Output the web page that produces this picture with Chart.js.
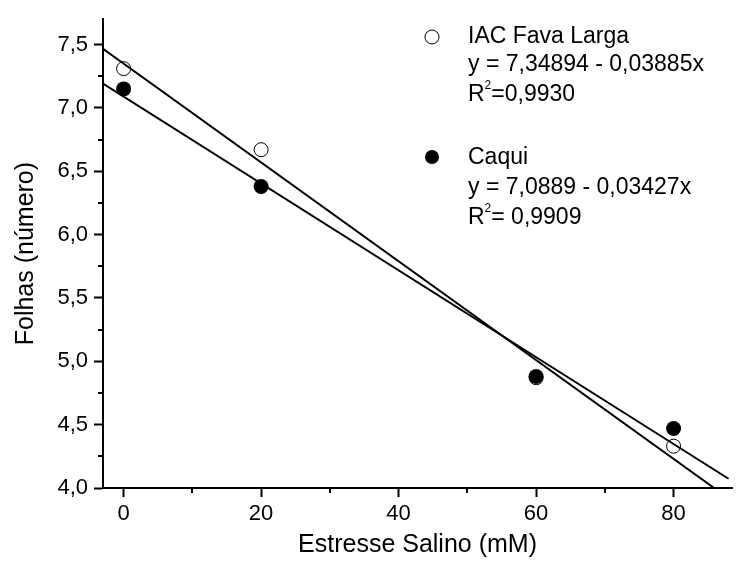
<!DOCTYPE html>
<html>
<head>
<meta charset="utf-8">
<script src="https://cdn.jsdelivr.net/npm/chart.js@4.4.1/dist/chart.umd.min.js"></script>
<style>
  html, body { margin: 0; padding: 0; background: #fff; }
  canvas { display: block; }
</style>
</head>
<body>
<canvas id="grafico" width="740" height="565"></canvas>
<script>
// Dados
const estresse = [0, 20, 60, 80];
const folhasIAC = [7.31, 6.67, 4.87, 4.33];
const folhasCaqui = [7.15, 6.38, 4.88, 4.47];

// Retas de regressao (extremos)
const retaIACx = [-3, 85.9];
const retaIACy = [7.466, 4.0];
const retaCaquix = [-3, 88];
const retaCaquiy = [7.192, 4.073];

const ticksX = [0, 20, 40, 60, 80];
const ticksXmenor = [10, 30, 50, 70];
const ticksY = [4.0, 4.5, 5.0, 5.5, 6.0, 6.5, 7.0, 7.5];
const ticksYmenor = [4.25, 4.75, 5.25, 5.75, 6.25, 6.75, 7.25];

const nomes = ['IAC Fava Larga', 'Caqui'];
const equacoes = ['y = 7,34894 - 0,03885x', 'y = 7,0889 - 0,03427x'];
const r2 = ['=0,9930', '= 0,9909'];

const fonte = '"Liberation Sans", Arial, sans-serif';

function pares(xs, ys) {
  return xs.map((x, i) => ({ x: x, y: ys[i] }));
}

// Ticks menores
const ticksMenores = {
  id: 'ticksMenores',
  afterDraw(chart) {
    const ctx = chart.ctx;
    const area = chart.chartArea;
    const sx = chart.scales.x, sy = chart.scales.y;
    ctx.save();
    ctx.strokeStyle = '#000';
    ctx.lineWidth = 2;
    ctx.beginPath();
    ticksXmenor.forEach(v => {
      const px = Math.round(sx.getPixelForValue(v));
      ctx.moveTo(px, area.bottom);
      ctx.lineTo(px, area.bottom + 5);
    });
    ticksYmenor.forEach(v => {
      const py = Math.round(sy.getPixelForValue(v));
      ctx.moveTo(area.left, py);
      ctx.lineTo(area.left - 5, py);
    });
    ctx.stroke();
    ctx.restore();
  }
};

// Legenda com equacoes
const legenda = {
  id: 'legenda',
  afterDraw(chart) {
    const ctx = chart.ctx;
    ctx.save();
    ctx.fillStyle = '#000';
    ctx.strokeStyle = '#000';
    ctx.textBaseline = 'middle';
    const xt = 468;
    const ys = [[37, 65, 95], [158, 188, 218]];
    const ym = [37, 157];
    for (let i = 0; i < 2; i++) {
      ctx.beginPath();
      ctx.arc(432, ym[i], 7, 0, Math.PI * 2);
      if (i === 0) { ctx.lineWidth = 1; ctx.stroke(); } else { ctx.fill(); }
      ctx.font = '23px ' + fonte;
      ctx.fillText(nomes[i], xt, ys[i][0]);
      ctx.fillText(equacoes[i], xt, ys[i][1]);
      ctx.fillText('R', xt, ys[i][2]);
      const wR = ctx.measureText('R').width;
      ctx.font = '12px ' + fonte;
      ctx.fillText('2', xt + wR, ys[i][2] - 9);
      const w2 = ctx.measureText('2').width;
      ctx.font = '23px ' + fonte;
      ctx.fillText(r2[i], xt + wR + w2, ys[i][2]);
    }
    ctx.restore();
  }
};

const ctx = document.getElementById('grafico').getContext('2d');

new Chart(ctx, {
  type: 'scatter',
  data: {
    datasets: [
      {
        label: 'reta IAC',
        data: pares(retaIACx, retaIACy),
        showLine: true,
        borderColor: '#000',
        borderWidth: 2,
        pointRadius: 0
      },
      {
        label: 'reta Caqui',
        data: pares(retaCaquix, retaCaquiy),
        showLine: true,
        borderColor: '#000',
        borderWidth: 2,
        pointRadius: 0
      },
      {
        label: nomes[0],
        data: pares(estresse, folhasIAC),
        pointRadius: 7,
        pointBorderWidth: 1,
        pointBorderColor: '#000',
        pointBackgroundColor: 'rgba(0,0,0,0)'
      },
      {
        label: nomes[1],
        data: pares(estresse, folhasCaqui),
        pointRadius: 7.5,
        pointBorderWidth: 0,
        pointBorderColor: '#000',
        pointBackgroundColor: '#000'
      }
    ]
  },
  options: {
    responsive: false,
    animation: false,
    layout: { padding: { top: 10, right: 2, left: 0, bottom: 0 } },
    plugins: {
      legend: { display: false },
      tooltip: { enabled: false }
    },
    scales: {
      x: {
        type: 'linear',
        min: -3,
        max: 88.5,
        afterBuildTicks: scale => { scale.ticks = ticksX.map(v => ({ value: v })); },
        afterFit: scale => { scale.height = 77; },
        grid: { display: true, drawOnChartArea: false, drawTicks: true, tickLength: 9, tickWidth: 2, tickColor: '#000' },
        border: { display: true, color: '#000', width: 2 },
        ticks: {
          color: '#000',
          padding: 4,
          maxRotation: 0,
          font: { family: fonte, size: 22 },
          callback: v => String(v)
        },
        title: {
          display: true,
          text: 'Estresse Salino (mM)',
          color: '#000',
          font: { family: fonte, size: 25 },
          padding: { top: 0, bottom: 5 }
        }
      },
      y: {
        type: 'linear',
        min: 4.0,
        max: 7.7,
        afterBuildTicks: scale => { scale.ticks = ticksY.map(v => ({ value: v })); },
        afterFit: scale => { scale.width = 103; },
        grid: { display: true, drawOnChartArea: false, drawTicks: true, tickLength: 9, tickWidth: 2, tickColor: '#000' },
        border: { display: true, color: '#000', width: 2 },
        ticks: {
          color: '#000',
          padding: 6,
          font: { family: fonte, size: 22 },
          callback: v => v.toFixed(1).replace('.', ',')
        },
        title: {
          display: true,
          text: 'Folhas (número)',
          color: '#000',
          font: { family: fonte, size: 25 },
          padding: { top: 11, bottom: 0 }
        }
      }
    }
  },
  plugins: [ticksMenores, legenda]
});
</script>
</body>
</html>
